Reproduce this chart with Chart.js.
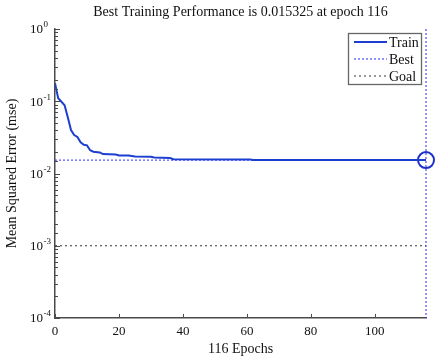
<html>
<head>
<script src="https://cdn.jsdelivr.net/npm/chart.js@4.4.0/dist/chart.umd.min.js"></script>
</head>
<body style="margin:0;background:#fff">
<canvas id="chart" width="439" height="358"></canvas>
<script>
// training curve
const epochs = [0, 1, 3, 4, 5, 6, 7, 8, 9, 10, 11, 12, 14, 15, 19, 20, 23, 25, 30, 31, 36, 37, 61, 62, 116];
const mse = [0.178, 0.110, 0.088, 0.060, 0.040, 0.034, 0.032, 0.027, 0.025, 0.0245, 0.021, 0.0200, 0.0196, 0.0186,
  0.0183, 0.0178, 0.0178, 0.0172, 0.0170, 0.0166, 0.0164, 0.0158, 0.0156, 0.01533, 0.015325];
const bestEpoch = 116;
const bestPerf = 0.015325;
const goal = 0.001;
const xTicks = [0, 20, 40, 60, 80, 100];
const yDecades = [1, 0.1, 0.01, 0.001, 0.0001];
const yExp = ['0', '-1', '-2', '-3', '-4'];

const serif = 'Liberation Serif';
const axisColor = '#4a4a4a';

const tickMarks = {
  id: 'tickMarks',
  afterDraw(chart) {
    const ctx = chart.ctx;
    const xs = chart.scales.x, ys = chart.scales.y;
    ctx.save();
    ctx.strokeStyle = axisColor;
    ctx.lineWidth = 1;
    ys.ticks.forEach(t => {
      const y = Math.round(ys.getPixelForValue(t.value)) + 0.5;
      const lg = Math.log10(t.value);
      const len = Math.abs(lg - Math.round(lg)) < 1e-6 ? 5 : 3;
      ctx.beginPath();
      ctx.moveTo(ys.right, y);
      ctx.lineTo(ys.right + len, y);
      ctx.stroke();
    });
    xTicks.forEach(v => {
      const x = Math.round(xs.getPixelForValue(v)) + 0.5;
      ctx.beginPath();
      ctx.moveTo(x, xs.top);
      ctx.lineTo(x, xs.top - 4);
      ctx.stroke();
    });
    // y tick labels with exponents
    ctx.fillStyle = '#111';
    ctx.textBaseline = 'middle';
    yDecades.forEach((v, i) => {
      const y = ys.getPixelForValue(v);
      ctx.font = '13px "' + serif + '"';
      ctx.textAlign = 'right';
      ctx.fillText('10', 43, y + 1);
      ctx.font = '9px "' + serif + '"';
      ctx.textAlign = 'left';
      ctx.fillText(yExp[i], 43.5, y - 4);
    });
    ctx.restore();
  }
};

const boxLegend = {
  id: 'boxLegend',
  afterDraw(chart) {
    const ctx = chart.ctx;
    const area = chart.chartArea;
    const right = area.right - 5, top = area.top + 4;
    const w = 73, h = 51;
    ctx.save();
    ctx.fillStyle = '#fff';
    ctx.fillRect(right - w, top, w, h);
    ctx.strokeStyle = '#666';
    ctx.lineWidth = 1.3;
    ctx.strokeRect(right - w + 0.5, top + 0.5, w, h);
    let row = 0;
    chart.data.datasets.forEach(ds => {
      if (ds.noLegend) return;
      const y = top + 9 + row * 17;
      ctx.strokeStyle = ds.borderColor;
      ctx.lineWidth = ds.borderWidth;
      ctx.setLineDash(ds.borderDash || []);
      ctx.beginPath();
      ctx.moveTo(right - w + 6, y);
      ctx.lineTo(right - w + 39, y);
      ctx.stroke();
      ctx.setLineDash([]);
      ctx.fillStyle = '#111';
      ctx.font = '14px "' + serif + '"';
      ctx.textBaseline = 'middle';
      ctx.textAlign = 'left';
      ctx.fillText(ds.label, right - w + 41, y + 1);
      row++;
    });
    ctx.restore();
  }
};

const ctx = document.getElementById('chart').getContext('2d');
new Chart(ctx, {
  type: 'line',
  data: {
    datasets: [{
      label: 'Train',
      data: epochs.map((e, i) => ({x: e, y: mse[i]})),
      borderColor: '#1c3fd2',
      borderWidth: 2,
      pointRadius: 0,
      tension: 0
    }, {
      label: 'Best',
      data: [{x: 0, y: bestPerf}, {x: bestEpoch, y: bestPerf}],
      borderColor: '#2b2bff',
      borderWidth: 1,
      borderDash: [2, 2],
      pointRadius: 0
    }, {
      label: 'Goal',
      data: [{x: 0, y: goal}, {x: bestEpoch, y: goal}],
      borderColor: '#333',
      borderWidth: 1,
      borderDash: [2, 3],
      pointRadius: 0
    }, {
      label: 'Best',
      noLegend: true,
      data: [{x: bestEpoch, y: 1}, {x: bestEpoch, y: 0.0001}],
      borderColor: '#2b2bff',
      borderWidth: 1,
      borderDash: [2, 2],
      pointRadius: 0,
      clip: false
    }, {
      label: 'Best point',
      noLegend: true,
      data: [{x: bestEpoch, y: bestPerf}],
      showLine: false,
      pointRadius: 8,
      pointBorderWidth: 2,
      pointBorderColor: '#1c2fc8',
      pointBackgroundColor: 'rgba(0,0,0,0)',
      clip: false
    }]
  },
  options: {
    responsive: false,
    animation: false,
    layout: {padding: {right: 13, left: 0, top: 0, bottom: 0}},
    plugins: {
      legend: {display: false},
      tooltip: {enabled: false},
      title: {
        display: true,
        fullSize: false,
        text: 'Best Training Performance is 0.015325 at epoch 116',
        color: '#111',
        font: {family: serif, size: 14, weight: 'normal'},
        padding: {top: 3.6, bottom: 8.6}
      }
    },
    scales: {
      x: {
        type: 'linear',
        min: 0,
        max: 116,
        afterBuildTicks: s => { s.ticks = xTicks.map(v => ({value: v})); },
        afterFit: s => { s.height = 40; },
        grid: {display: false, drawTicks: false},
        border: {color: axisColor, width: 1.5},
        ticks: {color: '#111', padding: 6, font: {family: serif, size: 13}},
        title: {
          display: true,
          text: '116 Epochs',
          color: '#111',
          font: {family: serif, size: 14},
          padding: {top: 1.6, bottom: 0}
        }
      },
      y: {
        type: 'logarithmic',
        min: 0.0001,
        max: 1,
        afterFit: s => { s.width = 55; },
        grid: {display: false, drawTicks: false},
        border: {color: axisColor, width: 1.5},
        ticks: {display: false},
        title: {
          display: true,
          text: 'Mean Squared Error (mse)',
          color: '#111',
          font: {family: serif, size: 14},
          padding: {top: 3.6, bottom: 0}
        }
      }
    }
  },
  plugins: [tickMarks, boxLegend]
});
</script>
</body>
</html>
